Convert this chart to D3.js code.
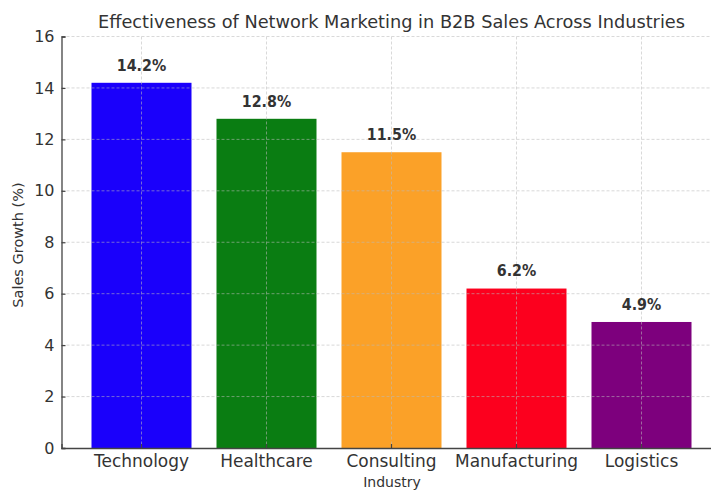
<!DOCTYPE html>
<html>
<head>
<meta charset="utf-8">
<script src="https://cdn.jsdelivr.net/npm/d3@7"></script>
<style>
  html, body { margin: 0; padding: 0; background: #fff; }
  svg { display: block; }
  text { font-family: "DejaVu Sans", sans-serif; fill: #333; }
</style>
</head>
<body>
<svg id="chart" width="711" height="490"></svg>
<script>
const categories = ["Technology", "Healthcare", "Consulting", "Manufacturing", "Logistics"];
const salesGrowth = [14.2, 12.8, 11.5, 6.2, 4.9];
const barColors = ["#1a00fb", "#0a7d12", "#fba128", "#fc001e", "#7d007d"];
const yTicks = [0, 2, 4, 6, 8, 10, 12, 14, 16];
const titleText = "Effectiveness of Network Marketing in B2B Sales Across Industries";
const xLabel = "Industry";
const yLabel = "Sales Growth (%)";

const svg = d3.select("#chart");
const plotLeft = 61.5, plotRight = 721.5, plotTop = 36.5, plotBottom = 448;

const x = d3.scaleBand().domain(categories).range([plotLeft, plotRight])
  .paddingInner(0.2).paddingOuter(0.24);
const y = d3.scaleLinear().domain([0, 16]).range([plotBottom, plotTop]);

// bars
svg.append("g").selectAll("rect").data(categories).join("rect")
  .attr("x", d => x(d))
  .attr("width", x.bandwidth())
  .attr("y", (d, i) => y(salesGrowth[i]))
  .attr("height", (d, i) => y(0) - y(salesGrowth[i]))
  .attr("fill", (d, i) => barColors[i]);

// grid (on top of bars)
const grid = svg.append("g").attr("stroke", "#bbb").attr("stroke-width", 0.8)
  .attr("stroke-dasharray", "3,2").attr("opacity", 0.7);
grid.selectAll("line.h").data(yTicks.filter(t => t > 0)).join("line")
  .attr("x1", plotLeft).attr("x2", plotRight)
  .attr("y1", d => y(d)).attr("y2", d => y(d));
grid.selectAll("line.v").data(categories).join("line")
  .attr("x1", d => x(d) + x.bandwidth() / 2).attr("x2", d => x(d) + x.bandwidth() / 2)
  .attr("y1", plotTop).attr("y2", plotBottom);

// axes
const yAxis = d3.axisLeft(y).tickValues(yTicks).tickSize(-4).tickPadding(7).tickFormat(d3.format("d"));
const gy = svg.append("g").attr("transform", `translate(${plotLeft},0)`).call(yAxis);
gy.select(".domain").attr("stroke", "#444").attr("stroke-width", 1.3);
gy.selectAll(".tick line").attr("stroke", "#444").attr("stroke-width", 1.2);
gy.selectAll(".tick text").style("font-size", "16px").style("font-family", "DejaVu Sans").attr("fill", "#333");

const xAxis = d3.axisBottom(x).tickSize(-4).tickPadding(10);
const gx = svg.append("g").attr("transform", `translate(0,${plotBottom})`).call(xAxis);
gx.select(".domain").attr("stroke", "#444").attr("stroke-width", 1.3);
gx.selectAll(".tick line").attr("stroke", "#444").attr("stroke-width", 1.2);
gx.selectAll(".tick text").style("font-size", "17.5px").style("font-family", "DejaVu Sans").attr("fill", "#333")
  .attr("y", 7).attr("dy", "0.71em")
  .attr("textLength", function() { return this.getComputedTextLength() * 0.97; })
  .attr("lengthAdjust", "spacingAndGlyphs");

// value labels
svg.append("g").selectAll("text").data(categories).join("text")
  .attr("x", d => x(d) + x.bandwidth() / 2)
  .attr("y", (d, i) => y(salesGrowth[i] + 0.47))
  .attr("text-anchor", "middle")
  .style("font-size", "15px").style("font-weight", "bold")
  .text((d, i) => salesGrowth[i].toFixed(1) + "%")
  .attr("textLength", function() { return this.getComputedTextLength() * 0.95; })
  .attr("lengthAdjust", "spacingAndGlyphs");

// title
svg.append("text").attr("x", 391.5).attr("y", 28).attr("text-anchor", "middle")
  .style("font-size", "17.5px").text(titleText)
  .attr("textLength", 587).attr("lengthAdjust", "spacingAndGlyphs");

// axis labels
svg.append("text").attr("x", 392).attr("y", 487).attr("text-anchor", "middle")
  .style("font-size", "14px").text(xLabel);
svg.append("text").attr("transform", "translate(23,245) rotate(-90)").attr("text-anchor", "middle")
  .style("font-size", "14.5px").text(yLabel);
</script>
</body>
</html>
